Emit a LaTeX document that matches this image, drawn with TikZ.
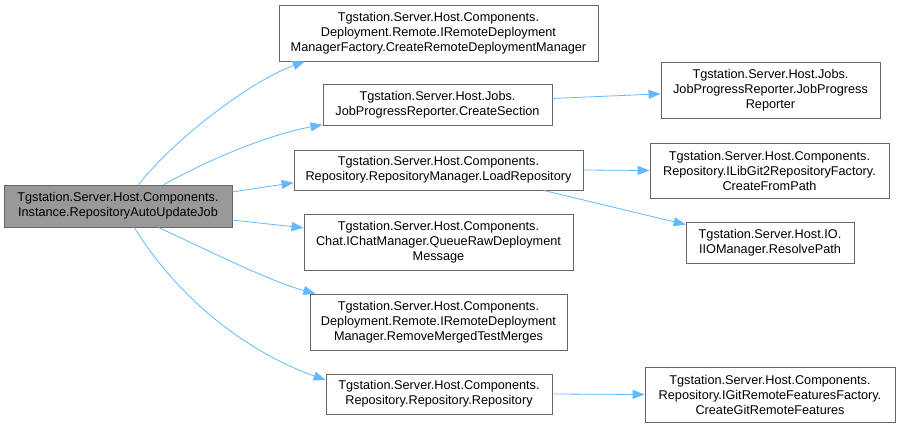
\documentclass[tikz,border=0pt]{standalone}
\usepackage{fontspec}
\setmainfont{Liberation Sans}
\usetikzlibrary{arrows.meta}
\definecolor{edgeblue}{HTML}{63B8FF}
\definecolor{boxline}{HTML}{666666}
\definecolor{rootfill}{HTML}{999999}
\tikzset{
  fn/.style={draw=boxline, fill=white, align=center, inner sep=0pt, line width=0.8pt,
    font=\fontsize{12.7}{15}\selectfont},
  call/.style={draw=edgeblue, line width=0.8pt, -{Triangle[length=12pt,width=9pt]}}
}
\begin{document}
\begin{tikzpicture}[x=1pt,y=-1pt]
  \useasboundingbox (0,0) rectangle (900,428);
  % caller
  \node[fn, fill=rootfill, minimum width=228pt, minimum height=42pt] (autoupd) at (118,206) {Tgstation.Server.Host.Components.\\Instance.RepositoryAutoUpdateJob};
  % direct callees
  \node[fn, minimum width=319pt, minimum height=56pt] (mkmgr) at (438.5,33) {Tgstation.Server.Host.Components.\\Deployment.Remote.IRemoteDeployment\\ManagerFactory.CreateRemoteDeploymentManager};
  \node[fn, minimum width=229pt, minimum height=41pt] (mksect) at (437.5,104.5) {Tgstation.Server.Host.Jobs.\\JobProgressReporter.CreateSection};
  \node[fn, minimum width=289pt, minimum height=40pt] (loadrepo) at (438.5,170) {Tgstation.Server.Host.Components.\\Repository.RepositoryManager.LoadRepository};
  \node[fn, minimum width=269pt, minimum height=56pt] (queuemsg) at (438.5,242) {Tgstation.Server.Host.Components.\\Chat.IChatManager.QueueRawDeployment\\Message};
  \node[fn, minimum width=257pt, minimum height=56pt] (rmmerged) at (438.5,322) {Tgstation.Server.Host.Components.\\Deployment.Remote.IRemoteDeployment\\Manager.RemoveMergedTestMerges};
  \node[fn, minimum width=226pt, minimum height=40pt] (repoctor) at (439,394) {Tgstation.Server.Host.Components.\\Repository.Repository.Repository};
  % second level
  \node[fn, minimum width=219pt, minimum height=56pt] (jprctor) at (770.5,90) {Tgstation.Server.Host.Jobs.\\JobProgressReporter.JobProgress\\Reporter};
  \node[fn, minimum width=239pt, minimum height=55pt] (frompath) at (769.5,170.5) {Tgstation.Server.Host.Components.\\Repository.ILibGit2RepositoryFactory.\\CreateFromPath};
  \node[fn, minimum width=168pt, minimum height=41pt] (resolve) at (770,242.5) {Tgstation.Server.Host.IO.\\IIOManager.ResolvePath};
  \node[fn, minimum width=250pt, minimum height=55pt] (mkfeat) at (770,394.5) {Tgstation.Server.Host.Components.\\Repository.IGitRemoteFeaturesFactory.\\CreateGitRemoteFeatures};
  % calls
  \draw[call] (autoupd.46) .. controls +(35,-45) and +(-55,20) .. (mkmgr.192);
  \draw[call] (autoupd.25) .. controls +(50,-28) and +(-50,9) .. (mksect.190);
  \draw[call] (autoupd.7) -- (loadrepo.185);
  \draw[call] (autoupd.-7) -- (queuemsg.174);
  \draw[call] (autoupd.-28) .. controls +(50,23) and +(-45,-12) .. (rmmerged.167);
  \draw[call] (autoupd.-53) .. controls +(50,80) and +(-70,-25) .. (repoctor.173);
  \draw[call] (mksect.3) -- (jprctor.182);
  \draw[call] (loadrepo.east) -- (frompath.west);
  \draw[call] (loadrepo.-11) -- (resolve.168);
  \draw[call] (repoctor.east) -- (mkfeat.west);
\end{tikzpicture}
\end{document}
